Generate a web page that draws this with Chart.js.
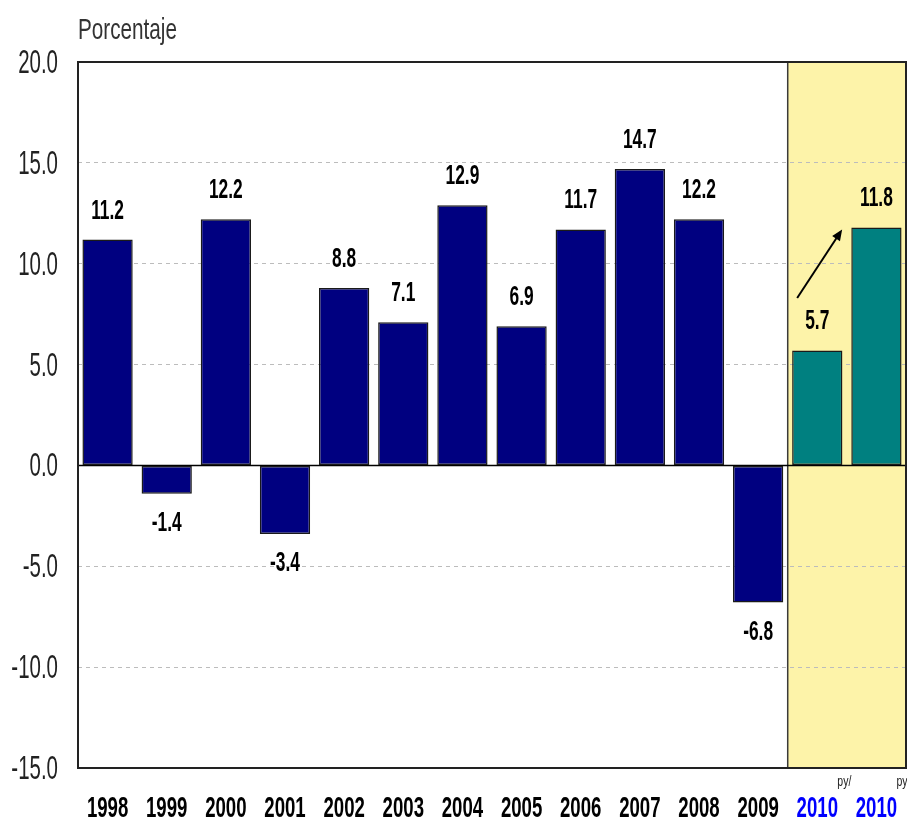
<!DOCTYPE html>
<html>
<head>
<meta charset="utf-8">
<script src="https://cdn.jsdelivr.net/npm/chart.js@4.4.1/dist/chart.umd.min.js"></script>
<style>
html,body{margin:0;padding:0;background:#fff;overflow:hidden}
canvas{display:block}
</style>
</head>
<body>
<canvas id="c" width="907" height="821"></canvas>
<script>
// data
var years=["1998","1999","2000","2001","2002","2003","2004","2005","2006","2007","2008","2009","2010","2010"]
var values=[11.2,-1.4,12.2,-3.4,8.8,7.1,12.9,6.9,11.7,14.7,12.2,-6.8,5.7,11.8]
var projected=[false,false,false,false,false,false,false,false,false,false,false,false,true,true]
var superscripts=["","","","","","","","","","","","","py/","py"]
var yMin=-15, yMax=20, yStep=5
var unitLabel="Porcentaje"
// arrow between the two 2010 estimates, in (category index, value) space
var arrowFrom=[11.66,8.3]
var arrowTo=[12.42,11.7]
var bandStart=11.5

var FONT='"Liberation Sans",Arial,sans-serif'
var SQUEEZE=0.62   // the original text is a narrow face

function narrowText(ctx,txt,x,y,align,font,color,sx){
    ctx.save()
    ctx.translate(x,y)
    ctx.scale(sx||SQUEEZE,1)
    ctx.font=font
    ctx.fillStyle=color
    ctx.textAlign=align
    ctx.textBaseline='alphabetic'
    ctx.fillText(txt,0,0)
    ctx.restore()
}

var overlay={
    id:'overlay',
    beforeDraw:function(chart){
        var ctx=chart.ctx, a=chart.chartArea, x=chart.scales.x
        var x0=x.getPixelForValue(bandStart)
        ctx.save()
        ctx.fillStyle='#fdf3a9'
        ctx.fillRect(x0,a.top,a.right-x0,a.bottom-a.top)
        ctx.strokeStyle='#3a3a3a'
        ctx.lineWidth=1.5
        ctx.strokeRect(x0,a.top,a.right-x0,a.bottom-a.top)
        ctx.restore()
        narrowText(ctx,unitLabel,a.left,39,'left','30px '+FONT,'#333',0.69)
    },
    beforeDatasetsDraw:function(chart){
        var ctx=chart.ctx, a=chart.chartArea, y=chart.scales.y
        var y0=y.getPixelForValue(0)
        ctx.save()
        ctx.strokeStyle='#000'
        ctx.lineWidth=1.5
        ctx.beginPath(); ctx.moveTo(a.left,y0); ctx.lineTo(a.right,y0); ctx.stroke()
        ctx.restore()
    },
    afterDatasetsDraw:function(chart){
        var ctx=chart.ctx, a=chart.chartArea, xs=chart.scales.x, ys=chart.scales.y
        var meta=chart.getDatasetMeta(0)
        // value labels
        meta.data.forEach(function(bar,i){
            var v=values[i]
            var ty=v>=0 ? bar.y-21 : bar.y+37
            narrowText(ctx,v.toFixed(1),bar.x,ty,'center','bold 28px '+FONT,'#000')
        })
        // arrow
        ctx.save()
        var x1=xs.getPixelForValue(arrowFrom[0]), y1=ys.getPixelForValue(arrowFrom[1])
        var x2=xs.getPixelForValue(arrowTo[0]), y2=ys.getPixelForValue(arrowTo[1])
        var ang=Math.atan2(y2-y1,x2-x1)
        ctx.strokeStyle='#000'
        ctx.fillStyle='#000'
        ctx.lineWidth=2
        ctx.beginPath(); ctx.moveTo(x1,y1); ctx.lineTo(x2-6*Math.cos(ang),y2-6*Math.sin(ang)); ctx.stroke()
        ctx.beginPath()
        ctx.moveTo(x2,y2)
        ctx.lineTo(x2-12*Math.cos(ang-0.4),y2-12*Math.sin(ang-0.4))
        ctx.lineTo(x2-12*Math.cos(ang+0.4),y2-12*Math.sin(ang+0.4))
        ctx.closePath(); ctx.fill()
        // plot frame
        ctx.strokeStyle='#222'
        ctx.lineWidth=2
        ctx.strokeRect(a.left,a.top,a.right-a.left,a.bottom-a.top)
        ctx.restore()
        // category labels + superscripts
        years.forEach(function(lab,i){
            var cx=xs.getPixelForValue(i)
            narrowText(ctx,lab,cx,a.bottom+49,'center','bold 30px '+FONT,projected[i]?'#0000ff':'#000')
            if(superscripts[i]) narrowText(ctx,superscripts[i],cx+20,a.bottom+18,'left','15px '+FONT,'#222',0.7)
        })
        // value axis labels
        ys.ticks.forEach(function(t){
            narrowText(ctx,t.value.toFixed(1),a.left-20,ys.getPixelForValue(t.value)+11,'right','33px '+FONT,'#222')
        })
    }
}

new Chart(document.getElementById('c'),{
    type:'bar',
    data:{
        labels:years,
        datasets:[{
            data:values,
            backgroundColor:projected.map(function(p){return p?'#008080':'#000080'}),
            borderColor:'#1a1a1a',
            borderWidth:1.5,
            borderSkipped:false,
            categoryPercentage:1,
            barPercentage:0.85
        }]
    },
    options:{
        responsive:false,
        animation:false,
        layout:{padding:{top:62,right:1,left:0,bottom:0}},
        plugins:{legend:{display:false},tooltip:{enabled:false}},
        scales:{
            x:{
                grid:{display:false,drawTicks:false},
                border:{display:false},
                ticks:{display:false,autoSkip:false},
                afterFit:function(s){s.height=53}
            },
            y:{
                min:yMin,max:yMax,
                grid:{
                    drawTicks:false,
                    lineWidth:1,
                    color:function(c){
                        var v=c.tick.value
                        return (v===0||v===yMin||v===yMax)?'rgba(0,0,0,0)':'#bcbcbc'
                    }
                },
                border:{display:false,dash:[4,4]},
                ticks:{stepSize:yStep,display:false},
                afterFit:function(s){s.width=78}
            }
        }
    },
    plugins:[overlay]
})
</script>
</body>
</html>
